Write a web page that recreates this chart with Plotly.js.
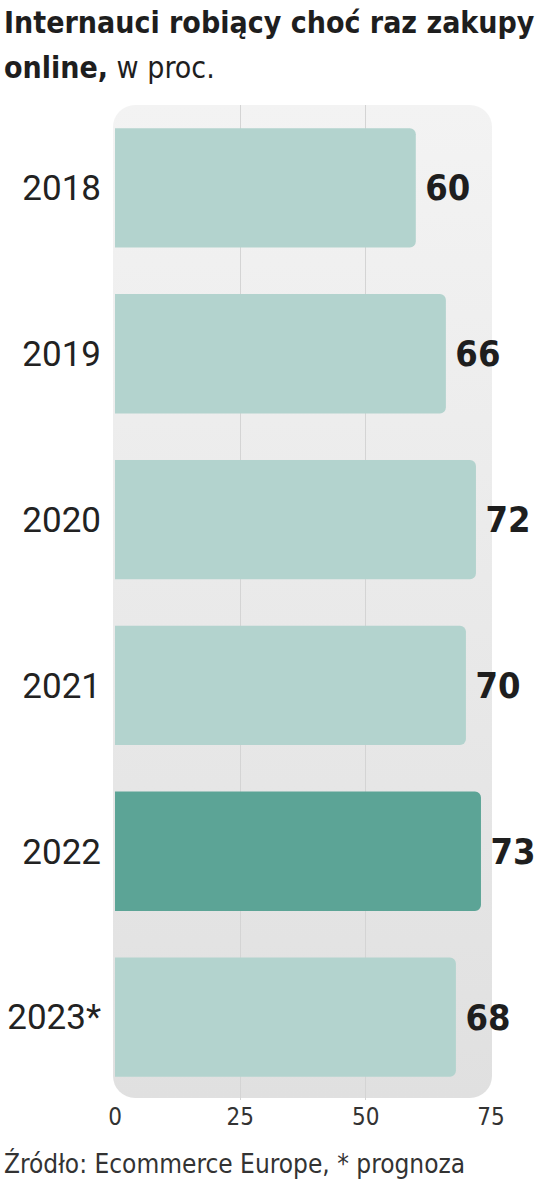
<!DOCTYPE html>
<html>
<head>
<meta charset="utf-8">
<script src="https://cdn.plot.ly/plotly-3.0.1.min.js"></script>
<style>
html,body{margin:0;padding:0;background:#fff;}
#chart{width:536px;height:1179px;}
</style>
</head>
<body>
<div id="chart"></div>
<script>
const years = ["2018", "2019", "2020", "2021", "2022", "2023*"];
const values = [60, 66, 72, 70, 73, 68];
const barColors = ["#b3d3ce", "#b3d3ce", "#b3d3ce", "#b3d3ce", "#5ca496", "#b3d3ce"];
const xTicks = [0, 25, 50, 75];

const titleLine1 = "<b>Internauci robiący choć raz zakupy</b>";
const titleLine2 = "<b>online,</b> w proc.";
const sourceText = "Źródło: Ecommerce Europe, * prognoza";

const COND = "DejaVu Sans Condensed, DejaVu Sans, sans-serif";

const L = 115, R = 45, T = 105, B = 79;
const W = 536, H = 1179;
const pw = W - L - R, ph = H - T - B;
// helpers: pixel -> paper
const px = x => (x - L) / pw;
const py = y => (H - B - y) / ph;

const bgSvg = "<svg xmlns='http://www.w3.org/2000/svg' width='379' height='993' viewBox='0 0 379 993'>" +
  "<defs><linearGradient id='g' x1='0' y1='0' x2='0' y2='1'>" +
  "<stop offset='0' stop-color='#f3f3f3'/><stop offset='1' stop-color='#e0e0e0'/></linearGradient></defs>" +
  "<rect x='0' y='0' width='379' height='993' rx='22' ry='22' fill='url(#g)'/></svg>";
const bgUri = "data:image/svg+xml;base64," + btoa(bgSvg);

const trace = {
  type: "bar",
  orientation: "h",
  y: years,
  x: values,
  marker: { color: barColors, line: { width: 0 } },
  text: values.map(v => "\u2009" + v),
  textposition: "outside",
  constraintext: "none",
  cliponaxis: false,
  textfont: { family: COND, size: 36, color: "#1e1e1e", weight: 700 },
  hoverinfo: "none"
};

const layout = {
  width: W, height: H,
  margin: { l: L, r: R, t: T, b: B, pad: 0 },
  paper_bgcolor: "#ffffff",
  plot_bgcolor: "rgba(0,0,0,0)",
  bargap: 0.28,
  barcornerradius: 6,
  showlegend: false,
  xaxis: {
    range: [0, 75],
    tickvals: xTicks,
    ticktext: xTicks.map(String),
    showgrid: true,
    gridcolor: "#d4d4d4",
    gridwidth: 1,
    zeroline: false,
    showline: false,
    ticks: "",
    ticklabelstandoff: 0,
    tickfont: { family: COND, size: 24, color: "#333333", weight: 300 },
    fixedrange: true
  },
  yaxis: {
    type: "category",
    autorange: "reversed",
    showgrid: false,
    zeroline: false,
    showline: false,
    ticks: "",
    ticklabelstandoff: 13,
    tickfont: { family: "Roboto, sans-serif", size: 35, color: "#222222" },
    fixedrange: true
  },
  images: [{
    source: bgUri,
    xref: "paper", yref: "paper",
    x: px(113), y: py(105),
    sizex: 379 / pw, sizey: 993 / ph,
    xanchor: "left", yanchor: "top",
    sizing: "stretch",
    layer: "below"
  }],
  annotations: [
    {
      text: titleLine1,
      xref: "paper", yref: "paper",
      x: px(2), y: py(22),
      xanchor: "left", yanchor: "middle",
      showarrow: false,
      font: { family: COND, size: 30, color: "#1e1e1e" }
    },
    {
      text: titleLine2,
      xref: "paper", yref: "paper",
      x: px(2), y: py(67),
      xanchor: "left", yanchor: "middle",
      showarrow: false,
      font: { family: COND, size: 30, color: "#1e1e1e" }
    },
    {
      text: sourceText,
      xref: "paper", yref: "paper",
      x: px(2), y: py(1163),
      xanchor: "left", yanchor: "middle",
      showarrow: false,
      font: { family: COND, size: 26, color: "#333333" }
    }
  ]
};

Plotly.newPlot("chart", [trace], layout, { displayModeBar: false, staticPlot: true });
</script>
</body>
</html>
